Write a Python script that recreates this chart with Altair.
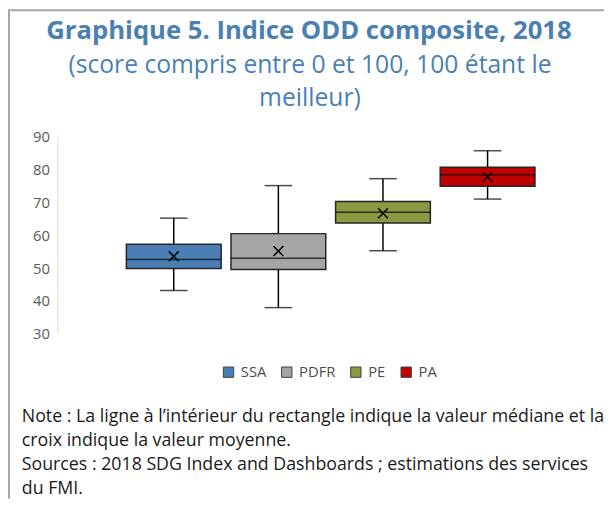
import altair as alt
import pandas as pd

groups = ["SSA", "PDFR", "PE", "PA"]
mins = [43.2, 38.0, 55.3, 71.0]
q1s = [49.9, 49.6, 63.7, 74.9]
medians = [52.6, 53.0, 67.0, 78.4]
q3s = [57.3, 60.5, 70.3, 80.7]
maxs = [65.2, 75.1, 77.2, 85.7]
means = [53.6, 55.2, 66.7, 77.8]
colors = ["#4a7fb5", "#a5a5a5", "#8a9a40", "#c00000"]
y_ticks = [30, 40, 50, 60, 70, 80, 90]

title_text = "Graphique 5. Indice ODD composite, 2018"
subtitle_lines = ["(score compris entre 0 et 100, 100 étant le", "meilleur)"]
note_lines = [
    "Note : La ligne à l\u2019intérieur du rectangle indique la valeur médiane et la",
    "croix indique la valeur moyenne.",
    "Sources : 2018 SDG Index and Dashboards ; estimations des services",
    "du FMI.",
]

df = pd.DataFrame({
    "group": groups, "min": mins, "q1": q1s, "median": medians,
    "q3": q3s, "max": maxs, "mean": means,
})

FONT = "Open Sans"
BLUE_T = "#4a7fb3"

x = alt.X("group:N", sort=groups, axis=None,
          scale=alt.Scale(paddingInner=0.094, paddingOuter=0.66))
yscale = alt.Scale(domain=[30, 90], nice=False, zero=False)
yaxis = alt.Axis(values=y_ticks, title=None, grid=False, ticks=False,
                 domain=True, domainColor="#d9d9d9", domainWidth=1,
                 labelFontSize=15, labelColor="#595959", labelFont=FONT,
                 labelPadding=8, labelOverlap=False, labelBound=False,
                 labelFlush=False)


def Y(field):
    return alt.Y(field, type="quantitative", scale=yscale, axis=yaxis)


base = alt.Chart(df)

whisker = base.mark_rule(color="black", strokeWidth=1.5).encode(
    x=x, y=Y("min"), y2="max:Q")
cap_lo = base.mark_tick(size=28, thickness=1.5, color="black").encode(
    x=x, y=Y("min"))
cap_hi = base.mark_tick(size=28, thickness=1.5, color="black").encode(
    x=x, y=Y("max"))
box = base.mark_bar(stroke="#262626", strokeWidth=1.5, opacity=1).encode(
    x=x, y=Y("q1"), y2="q3:Q",
    color=alt.Color("group:N", sort=groups,
                    scale=alt.Scale(domain=groups, range=colors),
                    legend=alt.Legend(orient="none", legendX=166, legendY=231,
                                      direction="horizontal", title=None,
                                      symbolType="square", symbolSize=110,
                                      symbolStrokeColor="#404040",
                                      symbolStrokeWidth=1, symbolOpacity=1,
                                      labelFontSize=15, labelColor="#4d4d4d",
                                      labelFont=FONT, columnPadding=13,
                                      labelOffset=5)))
median = base.mark_tick(size=96, thickness=1.5, color="black").encode(
    x=x, y=Y("median"))
mean = base.mark_point(shape="M-1,-1L1,1M-1,1L1,-1", size=100, color="black",
                       strokeWidth=1.5, filled=False, opacity=1).encode(
    x=x, y=Y("mean"))

one = pd.DataFrame({"k": [0]})
title = alt.Chart(one).mark_text(
    text=title_text, align="center", baseline="alphabetic", fontSize=26,
    fontWeight="bold", font=FONT, color=BLUE_T).encode(
    x=alt.value(255), y=alt.value(-99))
subtitle = alt.Chart(one).mark_text(
    text=subtitle_lines, align="center", baseline="alphabetic", fontSize=25,
    lineHeight=33, font=FONT, color=BLUE_T).encode(
    x=alt.value(256), y=alt.value(-64))
notes = alt.Chart(one).mark_text(
    text=note_lines, align="left", baseline="alphabetic", lineHeight=24.3,
    fontSize=18, font=FONT, color="#1a1a1a").encode(
    x=alt.value(-36), y=alt.value(289))

frame_left = alt.Chart(one).mark_rule(color="#a6a6a6", strokeWidth=2).encode(
    x=alt.value(-49), y=alt.value(-128), y2=alt.value(367))
frame_top = alt.Chart(one).mark_rule(color="#a6a6a6", strokeWidth=2).encode(
    x=alt.value(-50), x2=alt.value(560), y=alt.value(-128))

chart = alt.layer(frame_left, frame_top, whisker, cap_lo, cap_hi, box, median,
                  mean, title, subtitle, notes).properties(
    width=554, height=200,
    padding={"left": 50, "top": 127, "right": 0, "bottom": 167},
    autosize=alt.AutoSizeParams(type="none"),
).configure_view(stroke=None)

chart.save("out.html", embed_options={"renderer": "svg", "actions": False})
